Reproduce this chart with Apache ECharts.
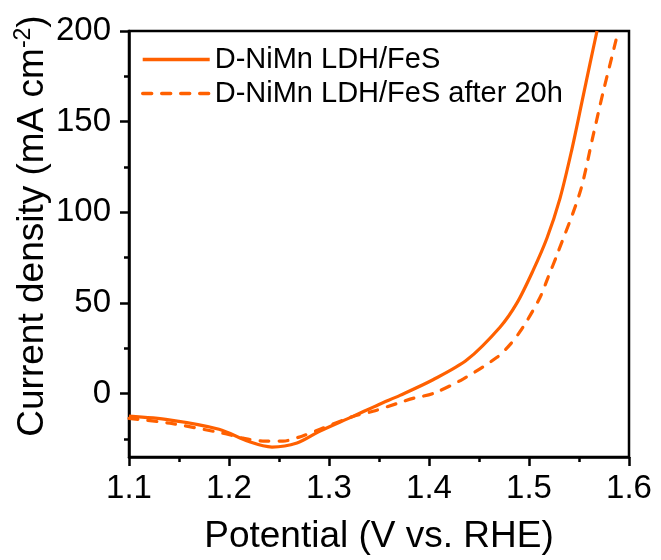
<!DOCTYPE html>
<html>
<head>
<meta charset="utf-8">
<script src="https://cdn.jsdelivr.net/npm/echarts@6/dist/echarts.min.js"></script>
<style>
  html, body { margin: 0; padding: 0; background: #fff; }
  #chart { width: 661px; height: 560px; }
</style>
</head>
<body>
<div id="chart"></div>
<script>
'use strict';

// values
const SERIES_NAMES = ['D-NiMn LDH/FeS', 'D-NiMn LDH/FeS after 20h'];

const freshPotential = [1.100, 1.140, 1.190, 1.220, 1.243, 1.268, 1.290, 1.324, 1.350, 1.371,
  1.404, 1.438, 1.471, 1.488, 1.504, 1.518, 1.531, 1.543, 1.553, 1.561, 1.568];
const freshCurrent = [-12.5, -14.5, -19.7, -26.5, -29.5, -27.3, -21.0, -12.6, -6.0, -1.0,
  7.6, 18.6, 36.6, 50.0, 67.8, 85.8, 107.7, 135.0, 161.0, 182.0, 200.0];

const agedPotential = [1.100, 1.141, 1.194, 1.214, 1.234, 1.254, 1.273, 1.291, 1.324, 1.344,
  1.368, 1.385, 1.404, 1.434, 1.468, 1.481, 1.494, 1.511, 1.519, 1.528, 1.551, 1.564, 1.574, 1.583, 1.587];
const agedCurrent = [-13.7, -16.4, -21.9, -24.6, -26.2, -26.2, -23.5, -19.7, -12.6, -9.8,
  -5.5, -2.5, 0.0, 8.0, 20.0, 27.0, 36.6, 53.0, 64.0, 76.5, 111.0, 142.0, 166.0, 186.0, 195.0];

const yTickValues = [0, 50, 100, 150, 200];
const yMinorTickValues = [-25, 25, 75, 125, 175];

const LINE_COLOR = '#ff6000';
const FONT = 'Liberation Sans, Arial, sans-serif';

function pairs(xs, ys) {
  let out = [];
  for (let i = 0; i < xs.length; i++) {
    out.push([xs[i], ys[i]]);
  }
  return out;
}

const chart = echarts.init(document.getElementById('chart'), null, {renderer: 'canvas'});

const option = {
  animation: false,
  textStyle: {fontFamily: FONT},
  grid: {
    left: 129, right: 32, top: 31, bottom: 98,
    show: true, borderColor: '#000', borderWidth: 2.5, backgroundColor: 'transparent'
  },
  legend: {
    orient: 'vertical',
    left: 141, top: 45, padding: 0,
    itemWidth: 67, itemHeight: 14, itemGap: 5,
    itemStyle: {opacity: 0},
    lineStyle: {width: 3.4},
    textStyle: {fontFamily: FONT, fontSize: 29, color: '#000'},
    data: SERIES_NAMES
  },
  xAxis: {
    type: 'value',
    min: 1.1, max: 1.6, interval: 0.1,
    name: 'Potential (V vs. RHE)',
    nameLocation: 'middle', nameGap: 61,
    nameTextStyle: {fontFamily: FONT, fontSize: 37, color: '#000'},
    axisLine: {onZero: false, lineStyle: {color: '#000', width: 2.5}},
    axisTick: {length: 9, lineStyle: {color: '#000', width: 2.5}},
    minorTick: {show: true, splitNumber: 2, length: 5, lineStyle: {color: '#000', width: 2.5}},
    axisLabel: {
      margin: 15, fontSize: 33, color: '#000', fontFamily: FONT,
      formatter: v => v.toFixed(1)
    },
    splitLine: {show: false}
  },
  yAxis: [{
    type: 'value',
    min: -35, max: 200,
    axisLine: {onZero: false, lineStyle: {color: '#000', width: 2.5}},
    axisTick: {length: 9, customValues: yTickValues, lineStyle: {color: '#000', width: 2.5}},
    axisLabel: {margin: 18, fontSize: 33, color: '#000', fontFamily: FONT, customValues: yTickValues},
    splitLine: {show: false}
  }, {
    type: 'value',
    min: -35, max: 200,
    position: 'left',
    axisLine: {show: false},
    axisTick: {show: true, length: 5, customValues: yMinorTickValues, lineStyle: {color: '#000', width: 2.5}},
    axisLabel: {show: false},
    splitLine: {show: false}
  }],
  graphic: [{
    type: 'text',
    x: 33, y: 226,
    rotation: Math.PI / 2,
    style: {
      text: '{a|Current density (mA cm}{s|-2}{a|)}',
      align: 'center',
      verticalAlign: 'middle',
      fill: '#000',
      rich: {
        a: {fontFamily: FONT, fontSize: 37, lineHeight: 42, fill: '#000'},
        s: {fontFamily: FONT, fontSize: 23, lineHeight: 26, verticalAlign: 'top', fill: '#000'}
      }
    }
  }],
  series: [{
    name: SERIES_NAMES[0],
    type: 'line',
    smooth: 0.3,
    showSymbol: false,
    symbol: 'none',
    color: LINE_COLOR,
    lineStyle: {color: LINE_COLOR, width: 3.2},
    data: pairs(freshPotential, freshCurrent)
  }, {
    name: SERIES_NAMES[1],
    type: 'line',
    smooth: 0.3,
    showSymbol: false,
    symbol: 'none',
    color: LINE_COLOR,
    lineStyle: {color: LINE_COLOR, width: 3.2, type: [9, 10], cap: 'round'},
    data: pairs(agedPotential, agedCurrent)
  }]
};

chart.setOption(option);
</script>
</body>
</html>
